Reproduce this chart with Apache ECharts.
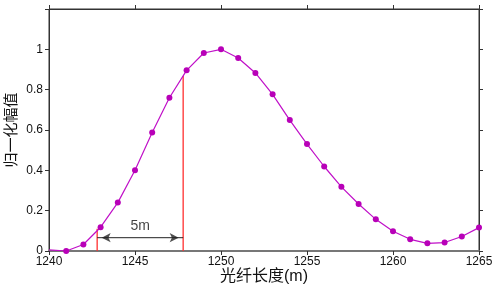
<!DOCTYPE html>
<html><head><meta charset="utf-8">
<script src="https://cdn.jsdelivr.net/npm/echarts@6/dist/echarts.min.js"></script>
<style>html,body{margin:0;padding:0;background:#fff}#c{width:500px;height:289px}</style>
</head><body><div id="c"></div>
<script>
const lengths = [1240,1241,1242,1243,1244,1245,1246,1247,1248,1249,1250,1251,1252,1253,1254,1255,1256,1257,1258,1259,1260,1261,1262,1263,1264,1265];
const amplitude = [0.006,0,0.032,0.118,0.24,0.40,0.588,0.76,0.896,0.982,1.0,0.957,0.883,0.777,0.649,0.530,0.419,0.318,0.233,0.157,0.098,0.058,0.038,0.042,0.072,0.116];
const xTicks = [1240,1245,1250,1255,1260,1265];
const yTicks = [0,0.2,0.4,0.6,0.8,1];
const xName = '光纤长度(m)';
const yName = '归一化幅值';
const markStart = 1242.8, markEnd = 1247.8;
const markStartTop = 0.11, markEndTop = 0.868;
const arrowY = 0.066;
const arrowText = '5m';

const latin = '"Liberation Sans", Arial, sans-serif';
const cjk = '"Liberation Sans", "Noto Sans CJK SC", sans-serif';
const chart = echarts.init(document.getElementById('c'));
chart.setOption({
  animation:false,
  grid:{left:49, right:21, top:9, bottom:38, outerBoundsMode:'none',
        show:true, borderColor:'#333333', borderWidth:1},
  graphic:[
    {type:'text', x:264, y:277, silent:true,
     style:{text:xName, font:'16px ' + cjk, fill:'#111111', textAlign:'center', textVerticalAlign:'middle'}},
    {type:'text', x:12, y:130, rotation:Math.PI/2, silent:true,
     style:{text:yName, font:'15px ' + cjk, fill:'#111111', textAlign:'center', textVerticalAlign:'middle'}}
  ],
  xAxis:[{
    type:'value', min:1240, max:1265, interval:5, position:'bottom',
    axisLine:{show:true, onZero:false, lineStyle:{color:'#777777', width:2}},
    axisTick:{show:true, length:4, lineStyle:{color:'#333333'}},
    axisLabel:{fontFamily:latin, fontSize:12, color:'#111111', margin:5,
      formatter:v=> xTicks.includes(v)? String(v):''},
    splitLine:{show:false}
  },{
    type:'value', min:1240, max:1265, position:'top',
    axisLine:{show:true, onZero:false, lineStyle:{color:'#333333', width:1}},
    axisTick:{show:true, length:4, lineStyle:{color:'#333333'}},
    axisLabel:{color:'rgba(0,0,0,0)'},
    splitLine:{show:false}
  }],
  yAxis:[{
    type:'value', min:0, max:1.2, interval:0.2, position:'left',
    axisLine:{show:true, onZero:false, lineStyle:{color:'#333333', width:1}},
    axisTick:{show:true, length:4, lineStyle:{color:'#333333'}},
    axisLabel:{fontFamily:latin, fontSize:12, color:'#111111', margin:6,
      formatter:v=>{ const t = yTicks.find(y=>Math.abs(y-v)<1e-9); return t===undefined?'':String(t); }},
    splitLine:{show:false}
  },{
    type:'value', min:0, max:1.2, position:'right',
    axisLine:{show:true, onZero:false, lineStyle:{color:'#333333', width:1}},
    axisTick:{show:true, length:4, lineStyle:{color:'#333333'}},
    axisLabel:{color:'rgba(0,0,0,0)'},
    splitLine:{show:false}
  }],
  series:[{
    type:'line', xAxisIndex:0, yAxisIndex:0,
    data:lengths.map((x,i)=>[x,amplitude[i]]),
    lineStyle:{color:'#c010c8', width:1.2}, itemStyle:{color:'#b800b8'},
    symbol:(v,p)=> p.dataIndex===0 ? 'none' : 'circle',
    symbolSize:6, showAllSymbol:true, z:3, silent:true
  },{
    type:'line', data:[[markStart,0],[markStart,markStartTop]], symbol:'none',
    lineStyle:{color:'#ff3030', width:1.3}, z:2, silent:true
  },{
    type:'line', data:[[markEnd,0],[markEnd,markEndTop]], symbol:'none',
    lineStyle:{color:'#ff3030', width:1.3}, z:2, silent:true
  },{
    type:'line', data:[[markStart,arrowY],[markEnd,arrowY]], symbol:'none',
    lineStyle:{color:'#222222', width:1}, z:4, silent:true
  },{
    type:'scatter', data:[[markStart,arrowY]], symbol:'arrow', symbolSize:[7,9],
    symbolRotate:90, symbolOffset:[4.5,0], itemStyle:{color:'#222222'}, z:5, silent:true
  },{
    type:'scatter', data:[[markEnd,arrowY]], symbol:'arrow', symbolSize:[7,9],
    symbolRotate:-90, symbolOffset:[-4.5,0], itemStyle:{color:'#222222'}, z:5, silent:true
  },{
    type:'scatter', data:[[(markStart+markEnd)/2, arrowY]], symbolSize:0, silent:true,
    label:{show:true, position:'top', distance:5, formatter:arrowText, fontFamily:latin, fontSize:14, color:'#111111'}
  }]
});
</script></body></html>
